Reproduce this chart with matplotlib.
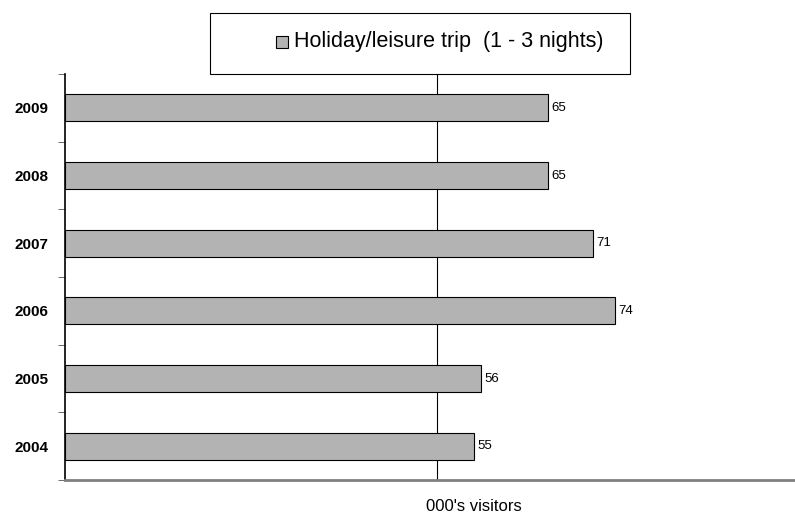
import matplotlib.pyplot as plt
from matplotlib.patches import Rectangle

years = ['2004', '2005', '2006', '2007', '2008', '2009']
visitors = [55, 56, 74, 71, 65, 65]
series_name = 'Holiday/leisure trip  (1 - 3 nights)'

plt.rcParams['font.family'] = ['Liberation Sans', 'DejaVu Sans']

fig = plt.figure(figsize=(7.95, 5.15), dpi=100)
# axes wider than the figure, like the original chart whose plot area runs off the right
ax = fig.add_axes([65 / 795, (515 - 480) / 515, 818 / 795, 406 / 515])

pos = range(len(years))
bars = ax.barh(pos, visitors, height=0.4, color='#b3b3b3', edgecolor='black', linewidth=0.8, zorder=3)
for p, v in zip(pos, visitors):
    ax.text(v + 0.4, p, str(v), va='center', ha='left', fontsize=9.5)

ax.set_xlim(0, 110)
ax.set_ylim(-0.5, len(years) - 0.5)
ax.axvline(50, color='black', linewidth=0.8, zorder=1)

ax.set_yticks(list(pos))
ax.set_yticklabels(years, fontweight='bold', fontsize=11)
ax.set_yticks([i - 0.5 for i in range(len(years) + 1)], minor=True)
ax.tick_params(axis='y', which='major', length=0, pad=12)
ax.tick_params(axis='y', which='minor', length=5, color='#555555')
ax.set_xticks([])
ax.set_xlabel("000's visitors", fontsize=12, labelpad=14)

for s in ['top', 'right']:
    ax.spines[s].set_visible(False)
ax.spines['left'].set_linewidth(1.2)
ax.spines['bottom'].set_color('#808080')
ax.spines['bottom'].set_linewidth(2)

# legend box
fig.patches.append(Rectangle((210 / 795, 1 - 74 / 515), 420 / 795, 61 / 515,
                             transform=fig.transFigure, facecolor='white', edgecolor='black', linewidth=0.8, zorder=5))
fig.patches.append(Rectangle((276 / 795, 1 - 48 / 515), 12 / 795, 12 / 515,
                             transform=fig.transFigure, facecolor='#b3b3b3', edgecolor='black', linewidth=0.8, zorder=6))
fig.text(294 / 795, 1 - 42 / 515, series_name, fontsize=15.5, va='center', ha='left', zorder=7)

fig.savefig('out.png', dpi=100)
